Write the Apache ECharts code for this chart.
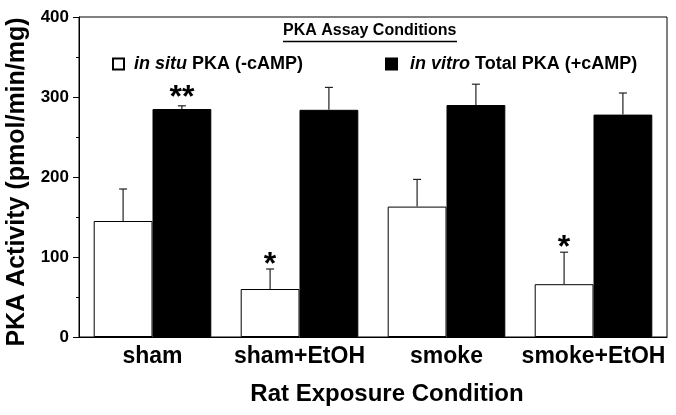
<!DOCTYPE html>
<html><head><meta charset="utf-8">
<script src="https://cdn.jsdelivr.net/npm/echarts@6/dist/echarts.min.js"></script>
<style>html,body{margin:0;padding:0;background:#fff}#c{width:676px;height:415px}</style>
</head><body><div id="c"></div>
<script>
var categories = ['sham', 'sham+EtOH', 'smoke', 'smoke+EtOH'];
var inSitu = [145, 60, 163, 66];
var inSituErr = [40, 25, 34, 40];
var inVitro = [285, 284, 290, 278];
var inVitroErr = [4, 28, 26, 27];
var inSituStars = ['', '*', '', '*'];
var inVitroStars = ['**', '', '', ''];
var yTicks = [0, 100, 200, 300, 400];
var seriesNames = ['in situ PKA (-cAMP)', 'in vitro Total PKA (+cAMP)'];

var FONT = '"Liberation Sans", Arial, sans-serif';

function errSeries(vals, errs, stars, offset) {
  return {
    type: 'custom', z: 5,
    data: vals.map(function (v, i) { return [i, v, errs[i]]; }),
    renderItem: function (params, api) {
      var ci = api.value(0), v = api.value(1), e = api.value(2);
      var s = stars[params.dataIndex];
      var base = api.coord([ci, v]);
      var top = api.coord([ci, v + e]);
      var band = api.size([1, 0])[0];
      var x = base[0] + offset * band;
      var children = [
        {type: 'line', shape: {x1: x, y1: base[1], x2: x, y2: top[1]}, style: {stroke: '#222', lineWidth: 1.2}},
        {type: 'line', shape: {x1: x - 4, y1: top[1], x2: x + 4, y2: top[1]}, style: {stroke: '#222', lineWidth: 1.2}}
      ];
      if (s) {
        children.push({type: 'text', style: {text: s, x: x, y: top[1] - (s.length > 1 ? 8 : 4), align: 'center', verticalAlign: 'middle',
          font: 'bold 32px ' + FONT, fill: '#000'}});
      }
      return {type: 'group', children: children};
    }
  };
}

var legendText = {fontSize: 18, fontWeight: 'bold', color: '#000', fontFamily: FONT,
  rich: {i: {fontSize: 18, fontWeight: 'bold', fontStyle: 'italic', color: '#000', fontFamily: FONT}}};

var chart = echarts.init(document.getElementById('c'), null, {renderer: 'canvas'});
chart.setOption({
  animation: false,
  backgroundColor: '#fff',
  textStyle: {fontFamily: FONT},
  grid: {left: 79, right: 9, top: 17, bottom: 78, containLabel: false, outerBoundsMode: 'none',
    show: true, borderColor: '#000', borderWidth: 1, backgroundColor: 'transparent'},
  legend: [
    {left: 107, top: 50, icon: 'rect', itemWidth: 11, itemHeight: 11, data: [seriesNames[0]],
      formatter: function () { return '{i|in situ} PKA (-cAMP)'; },
      textStyle: Object.assign({padding: [0, 0, 0, 5]}, legendText)},
    {left: 380, top: 50, icon: 'rect', itemWidth: 11, itemHeight: 11, data: [seriesNames[1]],
      formatter: function () { return '{i|in vitro} Total PKA (+cAMP)'; },
      textStyle: Object.assign({padding: [0, 0, 0, 8]}, legendText)}
  ],
  graphic: [
    {type: 'text', left: 283, top: 23, style: {text: 'PKA Assay Conditions', font: 'bold 16px ' + FONT, fill: '#000'}},
    {type: 'line', shape: {x1: 283, y1: 41.5, x2: 457, y2: 41.5}, style: {stroke: '#000', lineWidth: 1.3}}
  ],
  xAxis: {
    type: 'category', data: categories,
    name: 'Rat Exposure Condition', nameLocation: 'middle', nameGap: 45,
    nameTextStyle: {fontSize: 24, fontWeight: 'bold', color: '#000', fontFamily: FONT, padding: [0, 0, 0, 28]},
    axisLine: {lineStyle: {color: '#000'}},
    axisTick: {alignWithLabel: true, length: 6, lineStyle: {color: '#000'}},
    axisLabel: {interval: 0, fontSize: 23, fontWeight: 'bold', color: '#000', margin: 8, fontFamily: FONT}
  },
  yAxis: {
    type: 'value', min: 0, max: 400, interval: 100,
    name: 'PKA Activity (pmol/min/mg)', nameLocation: 'middle', nameGap: 40,
    nameTextStyle: {fontSize: 25, fontWeight: 'bold', color: '#000', fontFamily: FONT, padding: [0, 10, 0, 0]},
    axisLine: {show: true, lineStyle: {color: '#000'}},
    axisTick: {show: true, length: 6, lineStyle: {color: '#000'}},
    minorTick: {show: true, splitNumber: 2, length: 3, lineStyle: {color: '#000'}},
    splitLine: {show: false},
    axisLabel: {fontSize: 17, fontWeight: 'bold', color: '#000', margin: 10, fontFamily: FONT,
      formatter: function (v) { return yTicks.indexOf(v) >= 0 ? String(v) : ''; }}
  },
  series: [
    {name: seriesNames[0], type: 'bar', data: inSitu, barGap: '0%', barCategoryGap: '20%',
      itemStyle: {color: '#fff', borderColor: '#000', borderWidth: 1}},
    {name: seriesNames[1], type: 'bar', data: inVitro, barGap: '0%', barCategoryGap: '20%',
      itemStyle: {color: '#000', borderColor: '#000', borderWidth: 1}},
    errSeries(inSitu, inSituErr, inSituStars, -0.2),
    errSeries(inVitro, inVitroErr, inVitroStars, 0.2)
  ]
});
</script></body></html>
